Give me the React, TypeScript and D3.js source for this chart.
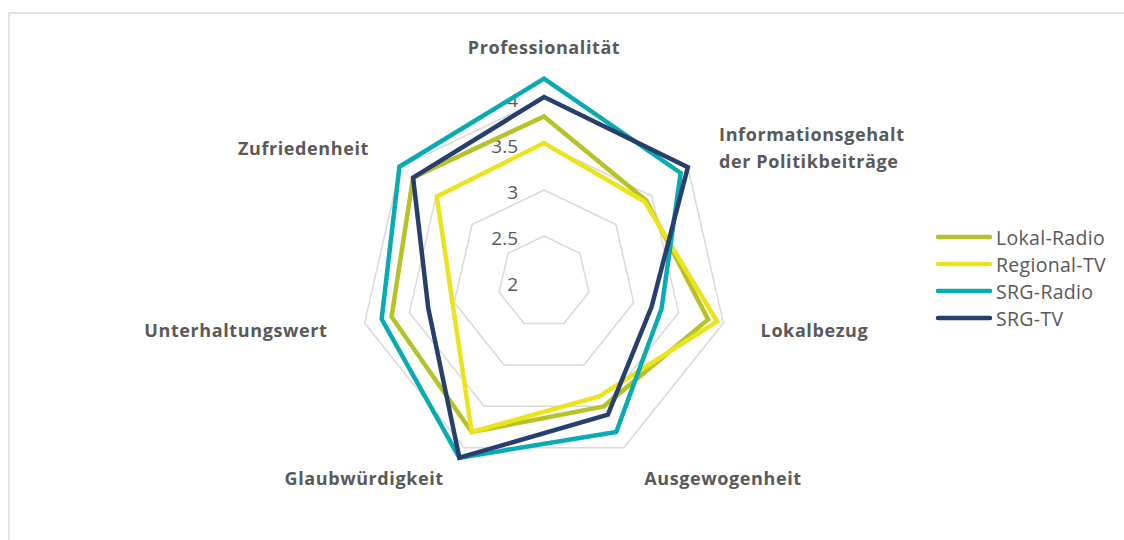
import React, { useEffect, useRef } from 'react';
import * as d3 from 'd3';

const categories = [
  ['Professionalität'],
  ['Informationsgehalt', 'der Politikbeiträge'],
  ['Lokalbezug'],
  ['Ausgewogenheit'],
  ['Glaubwürdigkeit'],
  ['Unterhaltungswert'],
  ['Zufriedenheit'],
];

const seriesNames = ['Lokal-Radio', 'Regional-TV', 'SRG-Radio', 'SRG-TV'];
const lokalRadio = [3.8, 3.42, 3.83, 3.5, 3.81, 3.7, 3.82];
const regionalTv = [3.51, 3.4, 3.93, 3.38, 3.81, 3.02, 3.49];
const srgRadio = [4.21, 3.9, 3.31, 3.81, 4.12, 3.81, 4.01];
const srgTv = [4.01, 4.0, 3.2, 3.6, 4.12, 3.29, 3.82];
const seriesColors = ['#b5c326', '#ede31c', '#08abb1', '#263f6f'];

const ticks = [2, 2.5, 3, 3.5, 4];

const App = () => {
  const ref = useRef<SVGSVGElement>(null);

  useEffect(() => {
    if (!ref.current) return;
    const svg = d3.select(ref.current);
    svg.selectAll('*').remove();

    const cx = 544;
    const cy = 282;
    const font = '"Open Sans", sans-serif';
    const textColor = '#595959';

    // chart frame (runs off the right/bottom edge)
    svg.append('rect')
      .attr('x', 9).attr('y', 13)
      .attr('width', 1300).attr('height', 700)
      .attr('fill', 'none')
      .attr('stroke', '#d9d9d9')
      .attr('stroke-width', 1.5);

    const r = d3.scaleLinear().domain([2, 4]).range([0, 184]);
    const n = categories.length;
    const angle = (i: number) => (i * 2 * Math.PI) / n;

    const g = svg.append('g').attr('transform', `translate(${cx},${cy})`);

    // grid rings
    const ring = d3.lineRadial<number>()
      .angle((_, i) => angle(i))
      .radius((d) => r(d))
      .curve(d3.curveLinearClosed);

    g.selectAll('.ring')
      .data(ticks.filter((t) => t > 2))
      .enter()
      .append('path')
      .attr('d', (t) => ring(d3.range(n).map(() => t)))
      .attr('fill', 'none')
      .attr('stroke', '#d9d9d9')
      .attr('stroke-width', 1.5);

    // tick labels
    g.selectAll('.tick')
      .data(ticks)
      .enter()
      .append('text')
      .attr('x', -26)
      .attr('y', (t) => -r(t) + 1.5)
      .attr('text-anchor', 'end')
      .attr('dominant-baseline', 'central')
      .attr('font-family', font)
      .attr('font-size', 19)
      .attr('fill', textColor)
      .text((t) => String(t));

    // series
    const allSeries = [lokalRadio, regionalTv, srgRadio, srgTv];
    const line = d3.lineRadial<number>()
      .angle((_, i) => angle(i))
      .radius((d) => r(d))
      .curve(d3.curveLinearClosed);

    allSeries.forEach((values, si) => {
      g.append('path')
        .attr('d', line(values))
        .attr('fill', 'none')
        .attr('stroke', seriesColors[si])
        .attr('stroke-width', 4.5)
        .attr('stroke-linejoin', 'miter');
    });

    // category labels
    const labelR = 215;
    categories.forEach((lines, i) => {
      const a = angle(i);
      const s = Math.sin(a);
      const c = Math.cos(a);
      let x = labelR * s;
      let y = -labelR * c;
      let anchor = 'middle';
      if (s > 0.1) { anchor = 'start'; x += 7; }
      else if (s < -0.1) { anchor = 'end'; x -= 7; }
      if (Math.abs(s) < 0.1) y -= 20;
      else if (c < -0.5) y += 2;
      const t = g.append('text')
        .attr('text-anchor', anchor)
        .attr('font-family', font)
        .attr('font-weight', 'bold')
        .attr('font-size', 18)
        .attr('letter-spacing', 0.6)
        .attr('fill', textColor);
      const lh = 27;
      lines.forEach((ln, li) => {
        t.append('tspan')
          .attr('x', x)
          .attr('y', y + (li - (lines.length - 1) / 2) * lh)
          .attr('dominant-baseline', 'central')
          .text(ln);
      });
    });

    // legend
    const legend = svg.append('g').attr('transform', 'translate(936,237)');
    seriesNames.forEach((name, i) => {
      const row = legend.append('g').attr('transform', `translate(0,${i * 27})`);
      row.append('line')
        .attr('x1', 2).attr('x2', 54)
        .attr('y1', 0).attr('y2', 0)
        .attr('stroke', seriesColors[i])
        .attr('stroke-width', 4.5)
        .attr('stroke-linecap', 'round');
      row.append('text')
        .attr('x', 60)
        .attr('y', 0)
        .attr('dominant-baseline', 'central')
        .attr('font-family', font)
        .attr('font-size', 19.5)
        .attr('letter-spacing', 0.3)
        .attr('fill', textColor)
        .text(name);
    });
  }, []);

  return (
    <svg
      ref={ref}
      width={1124}
      height={540}
      style={{ position: 'absolute', left: 0, top: 0, background: '#fff' }}
    ></svg>
  );
};

export default App;
